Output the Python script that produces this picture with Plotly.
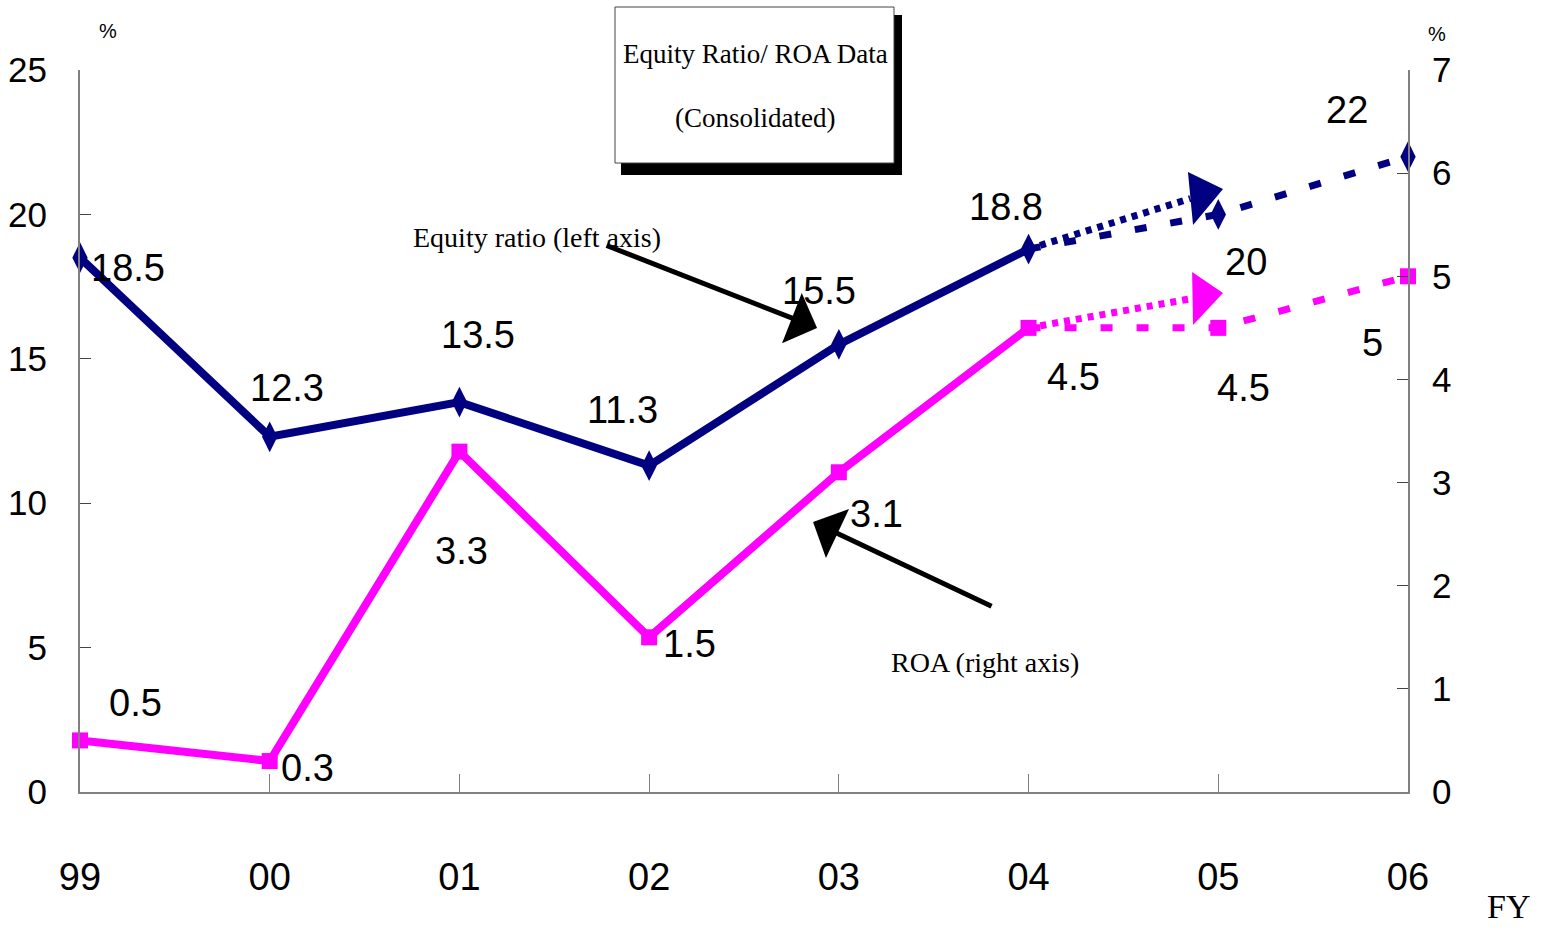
import plotly.graph_objects as go

# ---------------- data ----------------
years = ["99", "00", "01", "02", "03", "04", "05", "06"]
equity_ratio = [18.5, 12.3, 13.5, 11.3, 15.5, 18.8, 20, 22]   # left axis, %
roa = [0.5, 0.3, 3.3, 1.5, 3.1, 4.5, 4.5, 5]                  # right axis, %
n_actual = 6  # 99..04 actual, 05..06 plan

# upward-trend arrows after FY04 (end of dotted shaft, tip of head, head base corners)
equity_trend_end = [5.853, 20.55]
equity_trend_tip = [6.025, 20.88]
equity_head_base = [[5.840, 21.47], [5.867, 19.63]]
roa_trend_end = [5.864, 4.785]
roa_trend_tip = [6.025, 4.838]
roa_head_base = [[5.862, 5.042], [5.867, 4.528]]

# label offsets in pixels (dx, dy up)
eq_label_off = [(48, -10), (17, 49), (19, 67), (-27, 56), (-20, 53), (-23, 42), (28, -48), (-61, 47)]
roa_label_off = [(55, 37), (38, -7), (2, -99), (40, -7), (38, -42), (45, -49), (25, -60), (-36, -67)]

NAVY = "#000080"
MAGENTA = "#FF00FF"
NARROW = "Liberation Sans Narrow, Arial Narrow, Liberation Sans, sans-serif"
SERIF = "Liberation Serif, Times New Roman, serif"

x = list(range(len(years)))
fig = go.Figure()

# solid actual lines
fig.add_trace(go.Scatter(x=x[:n_actual], y=equity_ratio[:n_actual], mode="lines",
                         line=dict(color=NAVY, width=8), cliponaxis=False, showlegend=False))
fig.add_trace(go.Scatter(x=x[:n_actual], y=roa[:n_actual], mode="lines", yaxis="y2",
                         line=dict(color=MAGENTA, width=8), cliponaxis=False, showlegend=False))
# dashed plan lines
fig.add_trace(go.Scatter(x=x[n_actual - 1:], y=equity_ratio[n_actual - 1:], mode="lines",
                         line=dict(color=NAVY, width=7, dash="12px,24px"), cliponaxis=False, showlegend=False))
fig.add_trace(go.Scatter(x=x[n_actual - 1:], y=roa[n_actual - 1:], mode="lines", yaxis="y2",
                         line=dict(color=MAGENTA, width=7, dash="12px,24px"), cliponaxis=False, showlegend=False))
# dotted trend shafts
fig.add_trace(go.Scatter(x=[x[n_actual - 1], equity_trend_end[0]], y=[equity_ratio[n_actual - 1], equity_trend_end[1]],
                         mode="lines", line=dict(color=NAVY, width=7, dash="6px,6px"), cliponaxis=False, showlegend=False))
fig.add_trace(go.Scatter(x=[x[n_actual - 1], roa_trend_end[0]], y=[roa[n_actual - 1], roa_trend_end[1]], yaxis="y2",
                         mode="lines", line=dict(color=MAGENTA, width=7, dash="6px,6px"), cliponaxis=False, showlegend=False))
# markers
fig.add_trace(go.Scatter(x=x, y=equity_ratio, mode="markers",
                         marker=dict(symbol="diamond-tall", size=22, color=NAVY), cliponaxis=False, showlegend=False))
fig.add_trace(go.Scatter(x=x, y=roa, mode="markers", yaxis="y2",
                         marker=dict(symbol="square", size=16, color=MAGENTA), cliponaxis=False, showlegend=False))


def tri_path(tip, base):
    return (f"M{tip[0]},{tip[1]} L{base[0][0]},{base[0][1]} "
            f"L{base[1][0]},{base[1][1]} Z")


fig.add_shape(type="path", xref="x", yref="y", path=tri_path(equity_trend_tip, equity_head_base),
              fillcolor=NAVY, line=dict(width=0))
fig.add_shape(type="path", xref="x", yref="y2", path=tri_path(roa_trend_tip, roa_head_base),
              fillcolor=MAGENTA, line=dict(width=0))

annotations = []
for i, v in enumerate(equity_ratio):
    dx, dy = eq_label_off[i]
    annotations.append(dict(x=x[i], y=v, xref="x", yref="y", text=f"{v:g}", showarrow=False,
                            xanchor="center", yanchor="middle",
                            xshift=dx, yshift=dy, font=dict(family=NARROW, size=38, color="black")))
for i, v in enumerate(roa):
    dx, dy = roa_label_off[i]
    annotations.append(dict(x=x[i], y=v, xref="x", yref="y2", text=f"{v:g}", showarrow=False,
                            xanchor="center", yanchor="middle",
                            xshift=dx, yshift=dy, font=dict(family=NARROW, size=38, color="black")))

# pointer arrows
annotations.append(dict(x=3.885, y=16.07, xref="x", yref="y", ax=-212, ay=-83, axref="pixel", ayref="pixel",
                        text="", showarrow=True, arrowhead=1, arrowsize=1.8, arrowwidth=5, arrowcolor="black"))
annotations.append(dict(x=3.864, y=2.618, xref="x", yref="y2", ax=180, ay=85, axref="pixel", ayref="pixel",
                        text="", showarrow=True, arrowhead=1, arrowsize=1.8, arrowwidth=5, arrowcolor="black"))

W0, W1, H0, H1 = 80, 1408, 70, 792


def px(pxx):
    return (pxx - W0) / (W1 - W0)


def py(pyy):
    return (H1 - pyy) / (H1 - H0)


def txt(cx, cy, s, fam, size):
    return dict(x=px(cx), y=py(cy), xref="paper", yref="paper", text=s, showarrow=False,
                xanchor="center", yanchor="middle", font=dict(family=fam, size=size, color="black"))


annotations += [
    txt(537, 237, "Equity ratio (left axis)", SERIF, 28),
    txt(985, 662, "ROA (right axis)", SERIF, 28),
    txt(755, 54, "Equity Ratio/ ROA Data", SERIF, 27),
    txt(755, 118, "(Consolidated)", SERIF, 27),
    txt(1508, 906, "FY", SERIF, 34),
    txt(108, 31, "%", NARROW, 20),
    txt(1437, 34, "%", NARROW, 20),
]

shapes = [
    dict(type="rect", xref="paper", yref="paper", x0=px(621), x1=px(902), y0=py(175), y1=py(15),
         fillcolor="black", line=dict(width=0), layer="above"),
    dict(type="rect", xref="paper", yref="paper", x0=px(615), x1=px(894), y0=py(163), y1=py(7),
         fillcolor="white", line=dict(color="#444444", width=1), layer="above"),
]
for s in shapes:
    fig.add_shape(**s)

fig.update_layout(
    width=1552, height=931, autosize=False,
    margin=dict(l=80, r=144, t=70, b=139),
    paper_bgcolor="white", plot_bgcolor="white",
    annotations=annotations,
    xaxis=dict(range=[0, 7], tickmode="array", tickvals=x, ticktext=years, automargin=False,
               showgrid=False, zeroline=False, showline=True, linecolor="#808080", linewidth=2,
               ticks="inside", ticklen=18, tickcolor="#808080", tickwidth=1,
               tickfont=dict(family=NARROW, size=38, color="black"), ticklabelstandoff=50),
    yaxis=dict(range=[0, 25], dtick=5, showgrid=False, zeroline=False, showline=True, automargin=False,
               linecolor="#808080", linewidth=2, ticks="inside", ticklen=11, tickcolor="#444444",
               tickfont=dict(family=NARROW, size=35, color="black"), ticklabelstandoff=24),
    yaxis2=dict(range=[0, 7], dtick=1, overlaying="y", side="right", showgrid=False, zeroline=False,
                showline=True, linecolor="#808080", linewidth=2, ticks="inside", ticklen=11, automargin=False,
                tickcolor="#444444", tickfont=dict(family=NARROW, size=35, color="black"),
                ticklabelstandoff=15),
)

fig.write_html("out.html")
